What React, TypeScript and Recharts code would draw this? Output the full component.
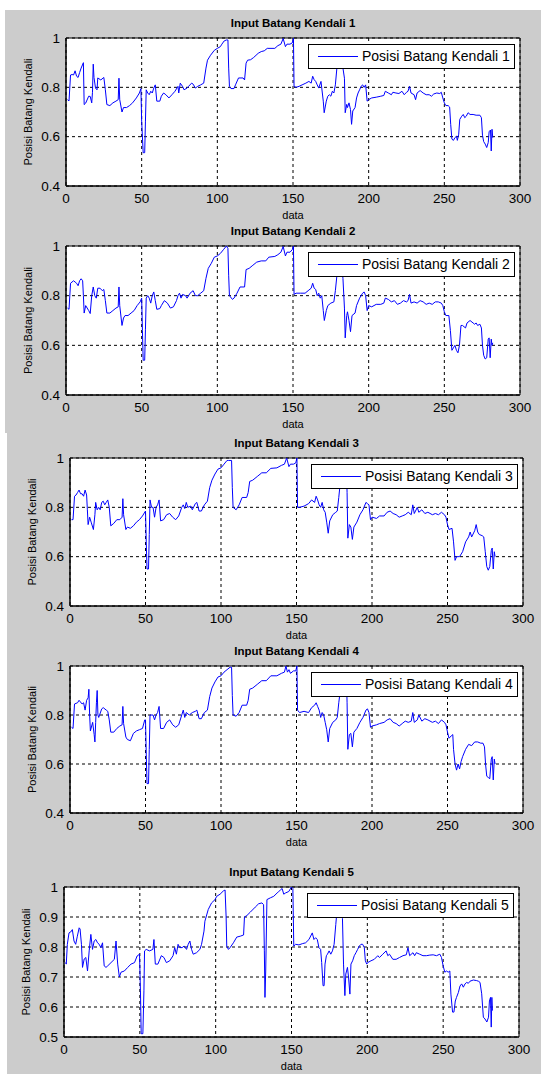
import { LineChart, Line, XAxis, YAxis, CartesianGrid, ReferenceArea } from 'recharts';

// x = data index, y = posisi batang kendali
const xTicks = [0, 50, 100, 150, 200, 250, 300];
const yTicksWide = [0.4, 0.6, 0.8, 1];
const yTicksFine = [0.5, 0.6, 0.7, 0.8, 0.9, 1];

const titles = [
  'Input Batang Kendali 1',
  'Input Batang Kendali 2',
  'Input Batang Kendali 3',
  'Input Batang Kendali 4',
  'Input Batang Kendali 5',
];

const legendNames = [
  'Posisi Batang Kendali 1',
  'Posisi Batang Kendali 2',
  'Posisi Batang Kendali 3',
  'Posisi Batang Kendali 4',
  'Posisi Batang Kendali 5',
];

const kendali1: [number, number][] = [
  [1, 0.75], [2, 0.745], [3, 0.85], [4, 0.852], [5, 0.85], [6, 0.867], [7, 0.845], [8, 0.84], [9, 0.86],
  [10, 0.878], [11.5, 0.9], [12, 0.73], [13, 0.736], [15, 0.764], [16, 0.763], [17, 0.737], [17.5, 0.78],
  [18, 0.894], [18.5, 0.84], [19.5, 0.797], [20.5, 0.79], [21, 0.838], [23, 0.83], [25, 0.84], [26, 0.79],
  [27, 0.73], [29, 0.726], [31, 0.737], [33, 0.744], [34.5, 0.75], [35, 0.837], [35.5, 0.75], [37, 0.7],
  [38, 0.718], [40, 0.718], [42, 0.726], [44, 0.737], [46.5, 0.757], [48.5, 0.777], [49.5, 0.795],
  [50, 0.663], [51, 0.535], [52, 0.535], [52.5, 0.663], [53, 0.79], [54, 0.777], [55, 0.77], [56, 0.784],
  [57, 0.777], [58, 0.797], [59, 0.81], [60, 0.744], [62, 0.744], [63, 0.764], [64.5, 0.777], [66, 0.77],
  [68, 0.757], [70, 0.77], [72, 0.784], [74, 0.804], [74.5, 0.777], [75.5, 0.817], [77, 0.804], [78, 0.79],
  [80, 0.797], [81, 0.804], [83, 0.817], [84, 0.813], [85.5, 0.797], [87, 0.804], [89, 0.81], [91, 0.817],
  [92.5, 0.878], [93.5, 0.91], [95.5, 0.93], [98, 0.95], [100, 0.958], [102, 0.965], [103, 0.975],
  [104.5, 0.988], [106, 0.992], [107, 0.992], [107.5, 0.878], [108, 0.804], [109, 0.795], [111, 0.795],
  [112, 0.81], [114, 0.838], [117, 0.838], [118, 0.83], [119, 0.898], [120, 0.91], [122, 0.912],
  [124, 0.921], [127, 0.938], [129, 0.945], [131, 0.948], [133, 0.958], [138, 0.958], [140, 0.969],
  [142, 0.975], [143.5, 0.998], [145, 0.965], [146, 0.975], [148, 0.975], [149.5, 0.98], [150.3, 0.999],
  [150.7, 0.804], [152, 0.8], [154, 0.804], [156, 0.81], [158.5, 0.817], [160.5, 0.824], [162, 0.817],
  [163, 0.845], [164, 0.831], [165, 0.824], [166, 0.81], [167, 0.797], [168.5, 0.824], [169, 0.797],
  [170, 0.744], [170.6, 0.697], [172, 0.744], [173, 0.764], [174, 0.77], [175, 0.764], [176, 0.784],
  [177, 0.777], [178, 0.81], [179, 0.878], [180, 0.93], [181, 0.97], [182, 0.93], [183, 0.878],
  [184, 0.837], [184.5, 0.697], [185.5, 0.731], [186, 0.718], [187, 0.737], [188, 0.71], [188.7, 0.65],
  [189.5, 0.704], [191, 0.718], [192, 0.757], [193, 0.777], [194, 0.79], [195, 0.804], [196, 0.81],
  [197, 0.8], [198, 0.81], [199, 0.744], [200, 0.75], [202, 0.757], [205, 0.76], [208, 0.764], [210, 0.767],
  [211, 0.784], [213, 0.777], [215, 0.77], [216, 0.78], [218, 0.777], [220, 0.775], [222, 0.784],
  [223.5, 0.77], [225, 0.78], [226, 0.784], [227, 0.804], [228, 0.777], [230, 0.77], [231, 0.75],
  [232, 0.777], [234, 0.787], [236, 0.777], [238, 0.77], [240, 0.77], [241.5, 0.764], [243, 0.773],
  [245, 0.777], [247, 0.775], [248, 0.78], [249, 0.757], [250, 0.737], [251, 0.726], [252.5, 0.726],
  [253.5, 0.72], [254.2, 0.65], [255, 0.59], [256, 0.585], [257, 0.596], [258, 0.602], [258.6, 0.585],
  [259.5, 0.61], [260.2, 0.67], [261.5, 0.683], [262.5, 0.69], [263.5, 0.677], [264.5, 0.683],
  [265.7, 0.697], [267, 0.69], [269, 0.69], [271, 0.687], [273.5, 0.687], [274.5, 0.677], [275.2, 0.606],
  [276, 0.58], [277, 0.57], [278, 0.556], [279, 0.576], [279.6, 0.62], [280.5, 0.627], [281, 0.542],
  [281.5, 0.63], [282, 0.596],
];

const kendali2: [number, number][] = [
  [1, 0.75], [2, 0.745], [3, 0.85], [5, 0.86], [6, 0.855], [7, 0.85], [8, 0.84], [9, 0.86], [10, 0.868],
  [11, 0.86], [11.5, 0.8], [12, 0.73], [13, 0.76], [15, 0.74], [16, 0.728], [17, 0.8], [18, 0.835],
  [19, 0.8], [20, 0.79], [21, 0.83], [22.5, 0.83], [24, 0.82], [25, 0.825], [26, 0.78], [27, 0.73],
  [29, 0.73], [31, 0.74], [33, 0.75], [34.5, 0.755], [35, 0.835], [35.5, 0.76], [37, 0.68], [38, 0.71],
  [39, 0.72], [41, 0.72], [43, 0.73], [45, 0.74], [47, 0.76], [49, 0.775], [50, 0.79], [50.5, 0.66],
  [51, 0.54], [52, 0.54], [52.5, 0.665], [53, 0.79], [54, 0.8], [55, 0.79], [56, 0.77], [57, 0.8],
  [58, 0.815], [59, 0.78], [60, 0.745], [62, 0.748], [63, 0.76], [65, 0.78], [67, 0.77], [69, 0.75],
  [71, 0.755], [73, 0.78], [74, 0.8], [75, 0.81], [76, 0.79], [77, 0.805], [79, 0.8], [80, 0.79],
  [82, 0.81], [84, 0.82], [85.5, 0.8], [87, 0.8], [89, 0.81], [91, 0.82], [92.5, 0.87], [94, 0.91],
  [96, 0.93], [98, 0.955], [100, 0.96], [102, 0.97], [104, 0.985], [106, 1.0], [107, 0.99], [107.5, 0.88],
  [108, 0.8], [110, 0.785], [111, 0.79], [113, 0.81], [115, 0.835], [118, 0.835], [119, 0.905],
  [121, 0.91], [123, 0.92], [126, 0.935], [129, 0.94], [132, 0.94], [134, 0.955], [138, 0.958],
  [140, 0.965], [142, 0.975], [143.5, 0.998], [145, 0.96], [146, 0.975], [148, 0.975], [149.5, 0.985],
  [150.3, 1.0], [150.7, 0.805], [152, 0.81], [155, 0.81], [158, 0.81], [160, 0.82], [162, 0.83],
  [163, 0.85], [164, 0.83], [165, 0.825], [166, 0.8], [167, 0.81], [168, 0.79], [169, 0.8], [170, 0.74],
  [170.7, 0.7], [172, 0.74], [173, 0.76], [175, 0.77], [177, 0.775], [178, 0.82], [179, 0.88], [180, 0.93],
  [181, 0.96], [182, 0.93], [183, 0.87], [184, 0.75], [184.5, 0.63], [185.5, 0.72], [186, 0.735],
  [187, 0.7], [188, 0.655], [189, 0.72], [191, 0.73], [192, 0.76], [194, 0.79], [196, 0.81], [197, 0.815],
  [198, 0.8], [199, 0.74], [200, 0.76], [202, 0.755], [205, 0.765], [208, 0.765], [210, 0.77], [211, 0.79],
  [213, 0.785], [215, 0.775], [217, 0.78], [219, 0.765], [221, 0.77], [223, 0.78], [225, 0.775],
  [226, 0.78], [227, 0.805], [228, 0.77], [230, 0.775], [232, 0.77], [234, 0.78], [236, 0.775],
  [238, 0.765], [240, 0.77], [242, 0.765], [244, 0.775], [246, 0.775], [248, 0.77], [249, 0.76],
  [250, 0.735], [251, 0.72], [253, 0.72], [254, 0.66], [255, 0.58], [256, 0.59], [257, 0.6], [258, 0.58],
  [259, 0.57], [260, 0.6], [261, 0.68], [262, 0.68], [264, 0.67], [265, 0.69], [267, 0.7], [269, 0.69],
  [270, 0.685], [271, 0.69], [272, 0.68], [273.5, 0.685], [274.5, 0.67], [275.2, 0.6], [276, 0.56],
  [277, 0.545], [278, 0.55], [279, 0.625], [279.6, 0.63], [280.3, 0.55], [281, 0.625], [281.5, 0.6],
  [282, 0.61],
];

const kendali3: [number, number][] = [
  [1, 0.75], [2, 0.75], [3, 0.845], [4, 0.85], [5, 0.86], [6, 0.87], [7, 0.855], [8, 0.855], [9, 0.845],
  [10, 0.87], [11, 0.85], [11.5, 0.79], [12, 0.73], [13, 0.76], [14, 0.74], [15.5, 0.71], [16.5, 0.77],
  [17, 0.82], [18, 0.79], [19, 0.8], [20, 0.79], [21, 0.82], [22, 0.825], [23, 0.81], [24, 0.82],
  [25, 0.83], [26, 0.8], [27, 0.725], [29, 0.735], [31, 0.75], [33, 0.75], [34.5, 0.76], [35, 0.835],
  [35.5, 0.77], [37, 0.71], [38, 0.72], [40, 0.715], [42, 0.725], [44, 0.74], [46, 0.75], [48, 0.765],
  [50, 0.785], [50.5, 0.66], [51, 0.55], [52, 0.55], [52.5, 0.69], [53, 0.83], [54, 0.8], [55, 0.8],
  [56, 0.76], [57, 0.8], [58, 0.81], [59, 0.83], [60, 0.745], [62, 0.75], [64, 0.77], [66, 0.775],
  [68, 0.76], [70, 0.75], [72, 0.765], [74, 0.8], [75, 0.81], [76, 0.795], [77, 0.82], [78, 0.8],
  [80, 0.805], [81, 0.79], [83, 0.815], [84, 0.82], [85.5, 0.785], [87, 0.785], [89, 0.81], [91, 0.825],
  [92.5, 0.88], [94, 0.91], [96, 0.935], [98, 0.955], [100, 0.96], [102, 0.975], [104, 0.99], [105, 0.99],
  [107, 0.99], [107.5, 0.88], [108, 0.8], [110, 0.79], [112, 0.81], [114, 0.84], [117, 0.84], [118, 0.86],
  [119, 0.905], [121, 0.91], [124, 0.925], [127, 0.94], [130, 0.94], [133, 0.958], [137, 0.96],
  [140, 0.97], [142, 0.975], [143.5, 1.0], [145, 0.965], [146, 0.975], [148, 0.975], [149.5, 0.98],
  [150.3, 1.0], [150.7, 0.8], [152, 0.8], [155, 0.805], [158, 0.815], [160, 0.83], [162, 0.82],
  [163, 0.845], [164, 0.83], [165, 0.81], [166, 0.8], [167, 0.82], [168, 0.79], [169, 0.78], [170, 0.74],
  [171, 0.695], [172, 0.745], [174, 0.77], [176, 0.78], [177, 0.785], [178, 0.84], [179, 0.9], [180, 0.95],
  [181, 0.97], [183, 0.97], [183.5, 0.86], [184, 0.675], [185, 0.73], [186, 0.72], [187, 0.67],
  [188, 0.72], [190, 0.74], [192, 0.77], [194, 0.79], [196, 0.82], [197, 0.815], [198, 0.81], [199, 0.75],
  [200, 0.76], [203, 0.755], [205, 0.765], [208, 0.765], [210, 0.78], [212, 0.785], [214, 0.775],
  [216, 0.77], [218, 0.76], [220, 0.765], [222, 0.77], [224, 0.78], [226, 0.77], [227, 0.81], [228, 0.775],
  [230, 0.8], [231, 0.78], [233, 0.79], [235, 0.775], [237, 0.78], [240, 0.77], [242, 0.775], [244, 0.77],
  [246, 0.78], [248, 0.77], [249, 0.76], [250, 0.73], [251, 0.71], [253, 0.715], [254, 0.66],
  [255, 0.585], [256, 0.6], [258, 0.6], [260, 0.62], [262, 0.66], [264, 0.68], [265, 0.7], [266, 0.68],
  [268, 0.705], [269, 0.73], [270, 0.7], [271, 0.69], [273, 0.685], [274, 0.68], [275, 0.62], [276, 0.56],
  [277, 0.545], [278, 0.56], [279, 0.625], [279.6, 0.635], [280.3, 0.55], [281, 0.62], [281.5, 0.6],
];

const kendali4: [number, number][] = [
  [1, 0.75], [2, 0.745], [3, 0.845], [5, 0.85], [6, 0.86], [8, 0.845], [9, 0.85], [10, 0.82], [11, 0.86],
  [12, 0.87], [12.5, 0.905], [13, 0.8], [13.5, 0.735], [15, 0.77], [16, 0.72], [16.5, 0.69], [17, 0.77],
  [17.5, 0.85], [18, 0.9], [18.5, 0.8], [19, 0.79], [21, 0.825], [22, 0.83], [24, 0.82], [25, 0.815],
  [26, 0.78], [27, 0.73], [29, 0.73], [31, 0.745], [33, 0.755], [34.5, 0.76], [35, 0.835], [35.5, 0.765],
  [37, 0.71], [38, 0.7], [40, 0.695], [42, 0.725], [44, 0.735], [46, 0.74], [48, 0.745], [49.5, 0.78],
  [50, 0.78], [50.5, 0.64], [51, 0.52], [52, 0.52], [52.5, 0.66], [53, 0.8], [55, 0.8], [56, 0.78],
  [57, 0.8], [58, 0.81], [59, 0.835], [60, 0.745], [62, 0.745], [64, 0.77], [66, 0.78], [68, 0.76],
  [70, 0.75], [72, 0.76], [74, 0.8], [75, 0.82], [76, 0.79], [77, 0.81], [79, 0.8], [81, 0.81],
  [83, 0.815], [84, 0.82], [85.5, 0.785], [87, 0.785], [89, 0.81], [91, 0.82], [92.5, 0.875], [94, 0.91],
  [96, 0.935], [98, 0.955], [100, 0.96], [102, 0.975], [104, 0.985], [106, 0.995], [107, 0.995],
  [107.5, 0.88], [108, 0.8], [110, 0.795], [112, 0.81], [114, 0.84], [117, 0.84], [118, 0.86],
  [119, 0.905], [121, 0.91], [124, 0.925], [127, 0.94], [130, 0.94], [133, 0.96], [137, 0.96],
  [140, 0.97], [142, 0.975], [143, 1.0], [144, 0.975], [145, 0.985], [146, 0.97], [148, 0.98],
  [149.5, 0.98], [150.3, 1.0], [150.7, 0.82], [152, 0.81], [155, 0.815], [158, 0.81], [160, 0.83],
  [162, 0.84], [163, 0.85], [164, 0.835], [165, 0.82], [166, 0.79], [167, 0.81], [168, 0.8], [169, 0.77],
  [170, 0.74], [171, 0.69], [172, 0.745], [174, 0.77], [176, 0.78], [177, 0.79], [178, 0.85], [179, 0.9],
  [180, 0.96], [181, 0.97], [183, 0.97], [183.5, 0.85], [184, 0.66], [185, 0.72], [186, 0.725],
  [187, 0.67], [188, 0.73], [190, 0.745], [192, 0.77], [194, 0.79], [196, 0.82], [197, 0.825], [198, 0.81],
  [199, 0.75], [200, 0.755], [203, 0.76], [205, 0.765], [208, 0.77], [210, 0.78], [212, 0.785],
  [214, 0.77], [216, 0.765], [218, 0.755], [220, 0.765], [222, 0.775], [224, 0.77], [226, 0.775],
  [227, 0.81], [228, 0.77], [230, 0.78], [231, 0.8], [233, 0.775], [235, 0.785], [237, 0.78], [240, 0.77],
  [242, 0.775], [244, 0.765], [246, 0.78], [248, 0.77], [249, 0.76], [250, 0.73], [251, 0.705],
  [252.5, 0.715], [253.5, 0.72], [254, 0.66], [255, 0.6], [256, 0.575], [257, 0.6], [258, 0.58],
  [259, 0.61], [260, 0.63], [262, 0.66], [264, 0.68], [266, 0.675], [268, 0.69], [270, 0.69],
  [272, 0.685], [273.5, 0.685], [274.5, 0.67], [275.2, 0.6], [276, 0.55], [277, 0.545], [278, 0.54],
  [279, 0.62], [279.6, 0.63], [280.3, 0.535], [281, 0.62], [281.5, 0.6],
];

const kendali5: [number, number][] = [
  [1, 0.748], [1.5, 0.743], [2.2, 0.809], [3.3, 0.847], [4.4, 0.85], [5.5, 0.858], [6.6, 0.82],
  [7.7, 0.809], [8.8, 0.836], [10, 0.864], [10.6, 0.86], [11.5, 0.809], [12.2, 0.732], [13.3, 0.76],
  [14.4, 0.765], [15.5, 0.72], [16.6, 0.787], [17.7, 0.842], [18.8, 0.792], [19.9, 0.82], [21, 0.825],
  [22.1, 0.814], [23.2, 0.809], [24.3, 0.798], [25.4, 0.814], [26.5, 0.737], [27.7, 0.732], [28.8, 0.737],
  [31, 0.748], [33.2, 0.759], [34.3, 0.82], [35.4, 0.743], [36.5, 0.7], [37.6, 0.716], [39.8, 0.72],
  [42, 0.732], [44.2, 0.743], [46.5, 0.748], [48.2, 0.77], [49.8, 0.776], [50.4, 0.654], [50.9, 0.511],
  [52, 0.511], [52.7, 0.654], [53.1, 0.787], [54.2, 0.792], [56.4, 0.787], [58.6, 0.792], [59.3, 0.825],
  [60.2, 0.743], [61.9, 0.743], [64.2, 0.771], [65.9, 0.765], [67.5, 0.748], [69.7, 0.754], [71.9, 0.771],
  [73, 0.798], [74.1, 0.776], [75.2, 0.809], [76.3, 0.798], [77.9, 0.798], [79.2, 0.803], [80.8, 0.792],
  [81.9, 0.809], [83, 0.82], [84.1, 0.792], [85.2, 0.776], [87.4, 0.781], [89.6, 0.792], [90.7, 0.809],
  [92.3, 0.853], [92.9, 0.886], [95.1, 0.925], [97.3, 0.947], [99.6, 0.958], [100.7, 0.969],
  [102.9, 0.976], [105.1, 0.987], [106.2, 0.99], [106.9, 0.9], [107.3, 0.803], [108.4, 0.792],
  [109.5, 0.798], [111.7, 0.814], [113.9, 0.833], [116.2, 0.836], [118.4, 0.84], [119, 0.9], [120.6, 0.905],
  [122.8, 0.916], [126.1, 0.933], [128.3, 0.944], [130.5, 0.947], [131.6, 0.941], [132.1, 0.787],
  [132.5, 0.632], [133, 0.72], [133.8, 0.958], [136.1, 0.964], [138.3, 0.969], [140.5, 0.98],
  [141.6, 0.985], [142.7, 0.99], [143.8, 0.995], [144.9, 0.976], [146, 0.98], [148.2, 0.985], [150, 1.0],
  [150.9, 0.995], [151.5, 0.803], [152.7, 0.809], [154.9, 0.807], [157.1, 0.811], [159.3, 0.814],
  [161.5, 0.825], [163.7, 0.847], [164.8, 0.825], [165.9, 0.831], [167, 0.825], [168.1, 0.798],
  [169.2, 0.792], [169.9, 0.748], [170.8, 0.671], [171.5, 0.671], [172.1, 0.743], [173, 0.771],
  [173.7, 0.776], [174.8, 0.787], [175.9, 0.776], [177, 0.787], [178.1, 0.809], [179.2, 0.875],
  [180.5, 0.95], [181.5, 0.97], [182.7, 0.93], [183.6, 0.895], [184.3, 0.743], [185.2, 0.638],
  [185.8, 0.71], [186.9, 0.732], [187.6, 0.7], [188.5, 0.643], [189.2, 0.743], [190.3, 0.754],
  [191.4, 0.771], [192.5, 0.781], [193.6, 0.792], [194.7, 0.803], [195.8, 0.809], [196.9, 0.809],
  [198, 0.798], [198.7, 0.754], [199.6, 0.743], [200.2, 0.748], [202.4, 0.754], [204.6, 0.759],
  [206.9, 0.771], [208, 0.765], [210.2, 0.776], [212.4, 0.787], [213.5, 0.771], [214.6, 0.776],
  [216.8, 0.759], [219, 0.759], [221.2, 0.765], [223.5, 0.771], [225.7, 0.774], [226.8, 0.798],
  [227.9, 0.771], [230.1, 0.781], [231.2, 0.771], [232.3, 0.781], [234.5, 0.776], [236.7, 0.771],
  [238.9, 0.771], [241.2, 0.773], [243.4, 0.774], [245.6, 0.771], [247.8, 0.776], [248.9, 0.765],
  [250, 0.737], [251.1, 0.716], [252.2, 0.72], [253.3, 0.716], [254.4, 0.72], [255.1, 0.643],
  [256.2, 0.583], [257.1, 0.583], [258, 0.62], [258.8, 0.632], [260, 0.648], [261.1, 0.67], [262.2, 0.677],
  [263.3, 0.666], [264.4, 0.677], [265.5, 0.682], [266.6, 0.679], [267.7, 0.686], [269.9, 0.69],
  [272.1, 0.688], [273.2, 0.686], [274.3, 0.682], [275.4, 0.644], [276.5, 0.566], [277.6, 0.56],
  [278.8, 0.55], [279.9, 0.566], [280.5, 0.62], [281.2, 0.632], [281.7, 0.533], [282.1, 0.632],
  [282.5, 0.588],
];

const FONT = '"Liberation Sans", Arial, Helvetica, sans-serif';
const PAGE_W = 541;
const PAGE_H = 1074;
const PAD_TOP = 30;
const PAD_BOTTOM = 45;
const Y_AXIS_W = 45;
const X_AXIS_H = 30;
const FIG_GRAY = '#cccccc';
const LINE_BLUE = '#0000ff';

interface Panel {
  title: string;
  legend: string;
  points: [number, number][];
  yTicks: number[];
  left: number;
  right: number;
  top: number;
  bottom: number;
}

const panels: Panel[] = [
  { title: titles[0], legend: legendNames[0], points: kendali1, yTicks: yTicksWide, left: 66, right: 520, top: 38, bottom: 186 },
  { title: titles[1], legend: legendNames[1], points: kendali2, yTicks: yTicksWide, left: 66, right: 520, top: 246, bottom: 395 },
  { title: titles[2], legend: legendNames[2], points: kendali3, yTicks: yTicksWide, left: 70, right: 523, top: 458, bottom: 606 },
  { title: titles[3], legend: legendNames[3], points: kendali4, yTicks: yTicksWide, left: 70, right: 523, top: 666, bottom: 813 },
  { title: titles[4], legend: legendNames[4], points: kendali5, yTicks: yTicksFine, left: 64, right: 519, top: 887, bottom: 1037 },
];

function KendaliPanel({ panel }: { panel: Panel }) {
  const { left, right, top, bottom, yTicks } = panel;
  const plotH = bottom - top;
  const h = plotH + PAD_TOP + PAD_BOTTOM;
  const data = panel.points.map(([x, y]) => ({ x, y }));
  const yMin = yTicks[0];
  const yMax = yTicks[yTicks.length - 1];
  const midX = (left + right) / 2;

  return (
    <div style={{ position: 'absolute', left: 0, top: top - PAD_TOP, width: PAGE_W, height: h }}>
      <LineChart
        width={PAGE_W}
        height={h}
        data={data}
        margin={{ top: PAD_TOP, right: PAGE_W - right, bottom: PAD_BOTTOM - X_AXIS_H, left: left - Y_AXIS_W }}
      >
        <CartesianGrid stroke="#000" strokeDasharray="3 3" fill="#fff" fillOpacity={1} />
        <ReferenceArea x1={0} x2={300} y1={yMin} y2={yMax} fill="none" stroke="#000" strokeWidth={1} />
        <XAxis
          type="number"
          dataKey="x"
          domain={[0, 300]}
          ticks={xTicks}
          interval={0}
          height={X_AXIS_H}
          tickLine={false}
          tickSize={0}
          tickMargin={7}
          axisLine={{ stroke: '#000' }}
          tick={{ fill: '#000', fontSize: 13.5, fontFamily: FONT }}
          label={() => (
            <text x={midX} y={PAD_TOP + plotH + 28.5} textAnchor="middle" dominantBaseline="central"
              fontSize={11} fontFamily={FONT} fill="#000">
              data
            </text>
          )}
        />
        <YAxis
          type="number"
          domain={[yMin, yMax]}
          ticks={yTicks}
          interval={0}
          allowDataOverflow
          width={Y_AXIS_W}
          tickLine={false}
          tickSize={0}
          tickMargin={6}
          axisLine={{ stroke: '#000' }}
          tick={{ fill: '#000', fontSize: 13.5, fontFamily: FONT }}
          tickFormatter={(v: number) => String(v)}
          label={() => {
            const lx = left - 38;
            const ly = PAD_TOP + plotH / 2;
            return (
              <text x={lx} y={ly} transform={`rotate(-90 ${lx} ${ly})`} textAnchor="middle"
                dominantBaseline="central" fontSize={11} fontFamily={FONT} fill="#000">
                Posisi Batang Kendali
              </text>
            );
          }}
        />
        <Line
          type="linear"
          dataKey="y"
          stroke={LINE_BLUE}
          strokeWidth={1}
          dot={false}
          activeDot={false}
          isAnimationActive={false}
        />
      </LineChart>

      {/* title */}
      <div
        style={{
          position: 'absolute', left, width: right - left, top: PAD_TOP - 21, textAlign: 'center',
          fontFamily: FONT, fontWeight: 'bold', fontSize: 11.5, lineHeight: '13px', color: '#000',
        }}
      >
        {panel.title}
      </div>

      {/* legend box, top right inside the axes like matlab */}
      <div
        style={{
          position: 'absolute', left: right - 212, top: PAD_TOP + 6, width: 207, height: 25,
          boxSizing: 'border-box', border: '1px solid #000', background: '#fff',
        }}
      >
        <svg width={50} height={23} style={{ position: 'absolute', left: 0, top: 0 }}>
          <line x1={9} y1={11.5} x2={49} y2={11.5} stroke={LINE_BLUE} strokeWidth={1} />
        </svg>
        <span
          style={{
            position: 'absolute', left: 53, top: 0, lineHeight: '23px', fontFamily: FONT, fontSize: 14,
            color: '#000', whiteSpace: 'nowrap',
          }}
        >
          {panel.legend}
        </span>
      </div>
    </div>
  );
}

export default function App() {
  return (
    <div style={{ position: 'absolute', left: 0, top: 0, width: PAGE_W, height: PAGE_H, background: '#fff', overflow: 'hidden' }}>
      <div style={{ position: 'absolute', left: 5, top: 10, right: 0, height: 423, background: FIG_GRAY }} />
      <div style={{ position: 'absolute', left: 7, top: 433, right: 0, bottom: 0, background: FIG_GRAY }} />
      {panels.map((p) => (
        <KendaliPanel key={p.title} panel={p} />
      ))}
    </div>
  );
}
